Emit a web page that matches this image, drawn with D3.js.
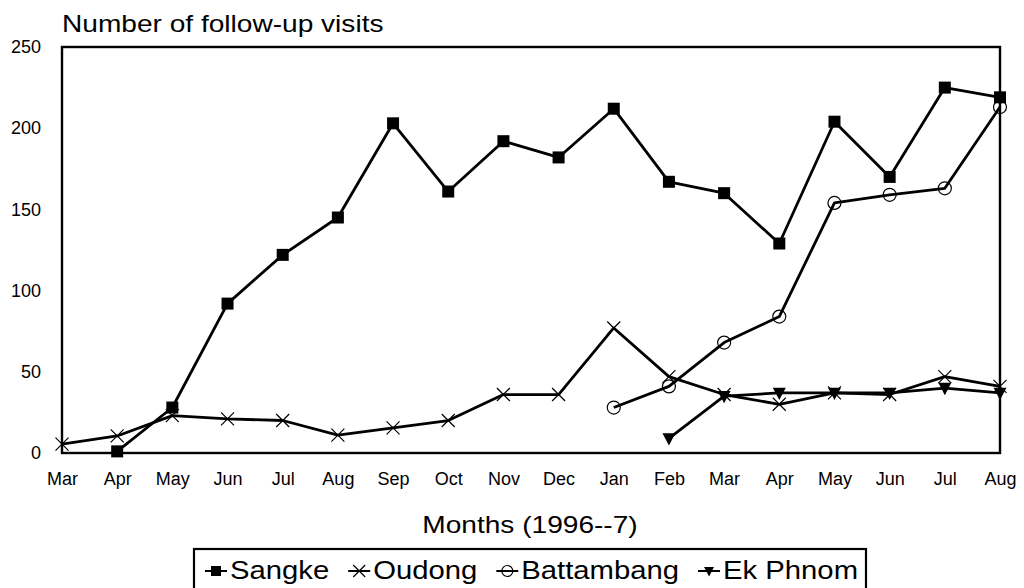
<!DOCTYPE html>
<html>
<head>
<meta charset="utf-8">
<script src="https://cdn.jsdelivr.net/npm/d3@7"></script>
<style>
  body { margin: 0; background: #fff; }
  svg { display: block; font-family: "Liberation Sans", Arial, sans-serif; }
</style>
</head>
<body>
<div id="chart"></div>
<script>
const months = ["Mar", "Apr", "May", "Jun", "Jul", "Aug", "Sep", "Oct", "Nov", "Dec",
                "Jan", "Feb", "Mar", "Apr", "May", "Jun", "Jul", "Aug"];
const yTicks = [0, 50, 100, 150, 200, 250];

// null = no data for that month
const sangke = [null, 1, 28, 92, 122, 145, 203, 161, 192, 182, 212, 167, 160, 129, 204, 170, 225, 219];
const oudong = [5.5, 10.5, 23, 21, 20, 11, 15.5, 20, 36, 36, 77, 47, 36, 30, 37, 36, 47, 41];
const battambang = [null, null, null, null, null, null, null, null, null, null, 28, 41, 68, 84, 154, 159, 163, 213];
const ekPhnom = [null, null, null, null, null, null, null, null, null, null, null, 9, 35, 37, 37, 37, 40, 37];

const series = [
  { name: "Sangke", values: sangke, marker: "square" },
  { name: "Oudong", values: oudong, marker: "cross" },
  { name: "Battambang", values: battambang, marker: "circle" },
  { name: "Ek Phnom", values: ekPhnom, marker: "triangle" }
];

const W = 1024, H = 588;
const margin = { top: 47, left: 62 };
const width = 1000 - margin.left;
const height = 453 - margin.top;
const stretch = 1.17;  // the scanned fonts are a bit wider than Liberation

const svg = d3.select("#chart").append("svg")
  .attr("width", W)
  .attr("height", H);

const g = svg.append("g")
  .attr("transform", `translate(${margin.left},${margin.top})`);

const x = d3.scalePoint()
  .domain(d3.range(months.length))
  .range([0, width]);

const y = d3.scaleLinear()
  .domain([0, 250])
  .range([height, 0]);

// frame
g.append("rect")
  .attr("width", width)
  .attr("height", height)
  .attr("fill", "none")
  .attr("stroke", "#000")
  .attr("stroke-width", 2.4);

// axes (labels only, the frame draws the lines)
const xAxis = g.append("g")
  .attr("transform", `translate(0,${height})`)
  .call(d3.axisBottom(x).tickSize(0).tickPadding(19).tickFormat(i => months[i]));
xAxis.select(".domain").remove();
xAxis.selectAll("text")
  .style("font-size", "18px")
  .style("font-family", "Liberation Sans, Arial, sans-serif")
  .attr("fill", "#000");

const yAxis = g.append("g")
  .call(d3.axisLeft(y).tickValues(yTicks).tickSize(0).tickPadding(21));
yAxis.select(".domain").remove();
yAxis.selectAll("text")
  .style("font-size", "18px")
  .style("font-family", "Liberation Sans, Arial, sans-serif")
  .attr("fill", "#000");

const line = d3.line()
  .defined(d => d[1] != null)
  .x(d => x(d[0]))
  .y(d => y(d[1]));

function drawMarker(sel, type, s) {
  const h = s / 2;
  if (type === "square") {
    sel.append("rect")
      .attr("x", -h).attr("y", -h)
      .attr("width", s).attr("height", s)
      .attr("fill", "#000");
  } else if (type === "cross") {
    sel.append("path")
      .attr("d", `M${-h},${-h}L${h},${h}M${-h},${h}L${h},${-h}`)
      .attr("stroke", "#000").attr("stroke-width", 1.2).attr("fill", "none");
  } else if (type === "circle") {
    sel.append("circle")
      .attr("r", h)
      .attr("fill", "none")
      .attr("stroke", "#000").attr("stroke-width", 1.2);
  } else if (type === "triangle") {
    sel.append("path")
      .attr("d", `M${-h},${-h * 0.8}L${h},${-h * 0.8}L0,${h * 1.1}Z`)
      .attr("fill", "#000");
  }
}

const markerSize = { square: 12, cross: 13, circle: 13, triangle: 13 };

series.forEach(s => {
  const pts = s.values.map((v, i) => [i, v]);
  g.append("path")
    .datum(pts)
    .attr("fill", "none")
    .attr("stroke", "#000")
    .attr("stroke-width", 2.8)
    .attr("stroke-linejoin", "round")
    .attr("d", line);

  g.append("g").selectAll("g")
    .data(pts.filter(d => d[1] != null))
    .join("g")
    .attr("transform", d => `translate(${x(d[0])},${y(d[1])})`)
    .each(function () { drawMarker(d3.select(this), s.marker, markerSize[s.marker]); });
});

function widen(sel) {
  const len = sel.node().getComputedTextLength();
  sel.attr("textLength", len * stretch).attr("lengthAdjust", "spacingAndGlyphs");
  return len * stretch;
}

// title
svg.append("text")
  .attr("x", 62)
  .attr("y", 32)
  .style("font-size", "24px")
  .text("Number of follow-up visits")
  .call(widen);

// x axis title
const mt = svg.append("text")
  .attr("y", 533)
  .style("font-size", "24px")
  .text("Months (1996--7)");
const mw = widen(mt);
mt.attr("x", 530 - mw / 2);

// legend
const legend = svg.append("g");
legend.append("rect")
  .attr("x", 194)
  .attr("y", 549)
  .attr("width", 672)
  .attr("height", 50)
  .attr("fill", "none")
  .attr("stroke", "#000")
  .attr("stroke-width", 2.2);

let lx = 205;
series.forEach(s => {
  const lg = legend.append("g").attr("transform", `translate(${lx},571)`);
  lg.append("line")
    .attr("x1", 0).attr("x2", 22)
    .attr("stroke", "#000").attr("stroke-width", 2);
  const m = lg.append("g").attr("transform", "translate(11,0)");
  drawMarker(m, s.marker, { square: 10, cross: 12, circle: 11, triangle: 10 }[s.marker]);
  const t = lg.append("text")
    .attr("x", 25)
    .attr("y", 8)
    .style("font-size", "25px")
    .text(s.name);
  const tw = widen(t);
  lx += 25 + tw + 19;
});
</script>
</body>
</html>
